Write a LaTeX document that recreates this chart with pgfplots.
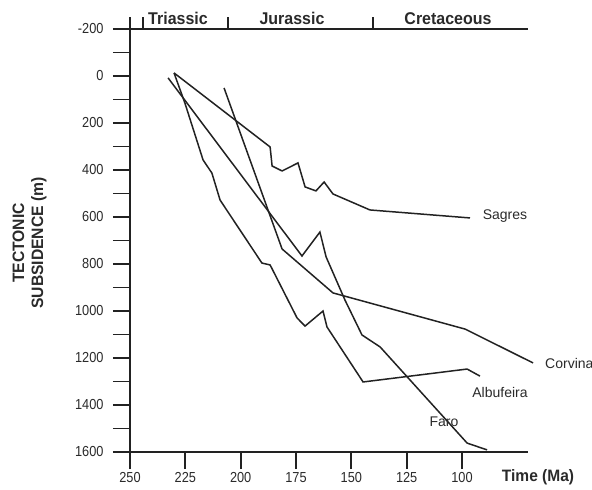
\documentclass[border=0pt]{standalone}
\usepackage{fontspec}
\setmainfont{Liberation Sans}
\newfontfamily\tickfont{Liberation Sans}[FakeStretch=0.88]
\newfontfamily\headfont{Liberation Sans}[FakeStretch=0.94]
\newfontfamily\ylabfont{Liberation Sans}[FakeStretch=0.95]
\usepackage{pgfplots}
\pgfplotsset{compat=1.18}
\definecolor{ink}{HTML}{222222}
\definecolor{txt}{HTML}{2A2A2A}
\begin{document}
\begin{tikzpicture}[x=1pt,y=1pt]
\useasboundingbox (0,0) rectangle (592,490);
\begin{axis}[
  at={(130pt,38pt)}, anchor=south west,
  scale only axis, width=398pt, height=423pt,
  x dir=reverse, xmin=70.2, xmax=250,
  y dir=reverse, ymin=-200, ymax=1600,
  clip=false,
  axis x line*=bottom, axis y line*=left,
  axis line style={line width=2.6pt, ink, -},
  xtick={100,125,150,175,200,225,250},
  xticklabels={100,125,150,175,200,225,250},
  ytick={-200,0,200,400,600,800,1000,1200,1400,1600},
  yticklabels={-200,0,200,400,600,800,1000,1200,1400,1600},
  minor ytick={-100,100,300,500,700,900,1100,1300,1500},
  tick align=outside,
  major tick length=17pt, minor tick length=17pt,
  every tick/.style={line width=1.9pt, ink},
  ticklabel style={font=\tickfont\fontsize{14.5}{16}\selectfont, text=txt},
  yticklabel style={xshift=-6pt},
  /pgf/number format/assume math mode=true,
]
\addplot[ink, line width=1.5pt, sharp plot] coordinates {
 (230.1,-13) (186.7,302) (185.8,383) (181.3,404) (174.1,370) (170.9,472)
 (166.0,489) (162.3,451) (158.3,502) (141.6,570) (96.4,604)};
\addplot[ink, line width=1.5pt, sharp plot] coordinates {
 (207.5,51) (181.3,736) (158.3,923) (98.6,1077) (67.9,1221)};
\addplot[ink, line width=1.5pt, sharp plot] coordinates {
 (232.8,8) (172.3,766) (164.2,664) (161.4,770) (152.9,953) (145.2,1102)
 (137.0,1153) (97.7,1562) (88.7,1591)};
\addplot[ink, line width=1.5pt, sharp plot] coordinates {
 (230.1,-13) (225.2,115) (217.0,357) (213.0,413) (209.3,528) (190.4,796)
 (186.7,804) (174.5,1030) (170.9,1064) (162.8,1000) (161.0,1068)
 (144.7,1302) (97.7,1247) (91.9,1277)};
\end{axis}
% top axis line and period ticks
\draw[line width=2.6pt, ink] (130,461) -- (528,461);
\draw[line width=1.6pt, ink] (130,461) -- (130,473);
\draw[line width=1.4pt, ink] (143,461) -- (143,473);
\draw[line width=1.4pt, ink] (228,461) -- (228,473);
\draw[line width=1.4pt, ink] (373,461) -- (373,473);
\node[anchor=base, inner sep=0pt, font=\headfont\bfseries\fontsize{17}{19}\selectfont, text=txt] at (178,465) {Triassic};
\node[anchor=base, inner sep=0pt, font=\headfont\bfseries\fontsize{17}{19}\selectfont, text=txt] at (292,465) {Jurassic};
\node[anchor=base, inner sep=0pt, font=\headfont\bfseries\fontsize{17}{19}\selectfont, text=txt] at (448,465) {Cretaceous};
% axis titles
\node[rotate=90, align=center, inner sep=0pt, font=\ylabfont\bfseries\fontsize{16.5}{19}\selectfont, text=txt] at (29.5,247) {TECTONIC\\SUBSIDENCE (m)};
\node[inner sep=0pt, font=\headfont\bfseries\fontsize{16.5}{18}\selectfont, text=txt] at (538,13) {Time (Ma)};
% curve labels
\node[inner sep=0pt, font=\fontsize{14}{16}\selectfont, text=txt] at (505,274) {Sagres};
\node[anchor=west, inner sep=0pt, font=\fontsize{14}{16}\selectfont, text=txt] at (545,127) {Corvina};
\node[inner sep=0pt, font=\fontsize{14}{16}\selectfont, text=txt] at (500,98) {Albufeira};
\node[inner sep=0pt, font=\fontsize{14}{16}\selectfont, text=txt] at (444,68) {Faro};
\end{tikzpicture}
\end{document}
